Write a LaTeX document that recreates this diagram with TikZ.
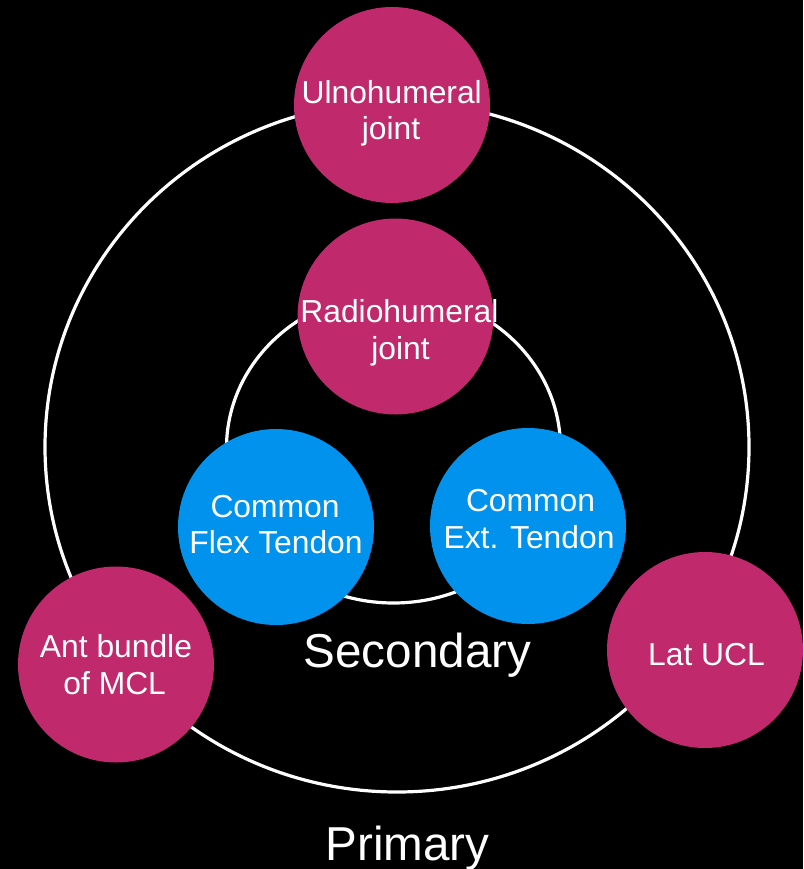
\documentclass[tikz,border=0pt]{standalone}
\usepackage{fontspec}
\setmainfont{Liberation Sans}
\definecolor{mag}{RGB}{192,41,108}
\definecolor{tblue}{RGB}{0,146,236}
\begin{document}
\begin{tikzpicture}[x=1pt,y=-1pt,
  ring/.style={draw=white,line width=3.2pt},
  disc/.style={circle,minimum size=196pt,inner sep=0pt,draw=none},
  jointdisc/.style={disc,fill=mag},
  tendondisc/.style={disc,fill=tblue},
  lbl/.style={text=white,anchor=base,inner sep=0pt,font=\fontsize{31.8}{36}\selectfont},
  biglbl/.style={text=white,anchor=base,inner sep=0pt,font=\fontsize{47.6}{52}\selectfont}]
\fill[black] (0,0) rectangle (803,869);
\useasboundingbox (0,0) rectangle (803,869);
% rings
\coordinate (oc) at (397,447);
\coordinate (ic) at (393.5,448);
\draw[ring] (oc) ellipse [x radius=352pt, y radius=345pt];
\draw[ring] (ic) ellipse [x radius=167pt, y radius=155pt];
% discs
\node[jointdisc] (uln) at (392,105) {};
\node[jointdisc] (rad) at (395.5,316.5) {};
\node[tendondisc] (flex) at (276,527) {};
\node[tendondisc] (ext) at (528,526) {};
\node[jointdisc] (mcl) at (116,664.5) {};
\node[jointdisc] (ucl) at (705,650) {};
% labels
\node[lbl] (uln1) at (391.7,104) {Ulnohumeral};
\node[lbl] (uln2) at (391,140) {joint};
\node[lbl] (rad1) at (399.4,322.7) {Radiohumeral};
\node[lbl] (rad2) at (400.5,359) {joint};
\node[lbl] (flex1) at (275,517) {Common};
\node[lbl] (flex2) at (276,553) {Flex Tendon};
\node[lbl] (ext1) at (530.5,511) {Common};
\node[lbl] (ext2) at (529,548) {Ext. Tendon};
\node[lbl] (mcl1) at (116,657) {Ant bundle};
\node[lbl] (mcl2) at (114.7,694) {of MCL};
\node[lbl] (ucl1) at (706.5,665) {Lat UCL};
\node[biglbl] (sec) at (417.5,667) {Secondary};
\node[biglbl] (pri) at (407.5,860) {Primary};
\end{tikzpicture}
\end{document}
